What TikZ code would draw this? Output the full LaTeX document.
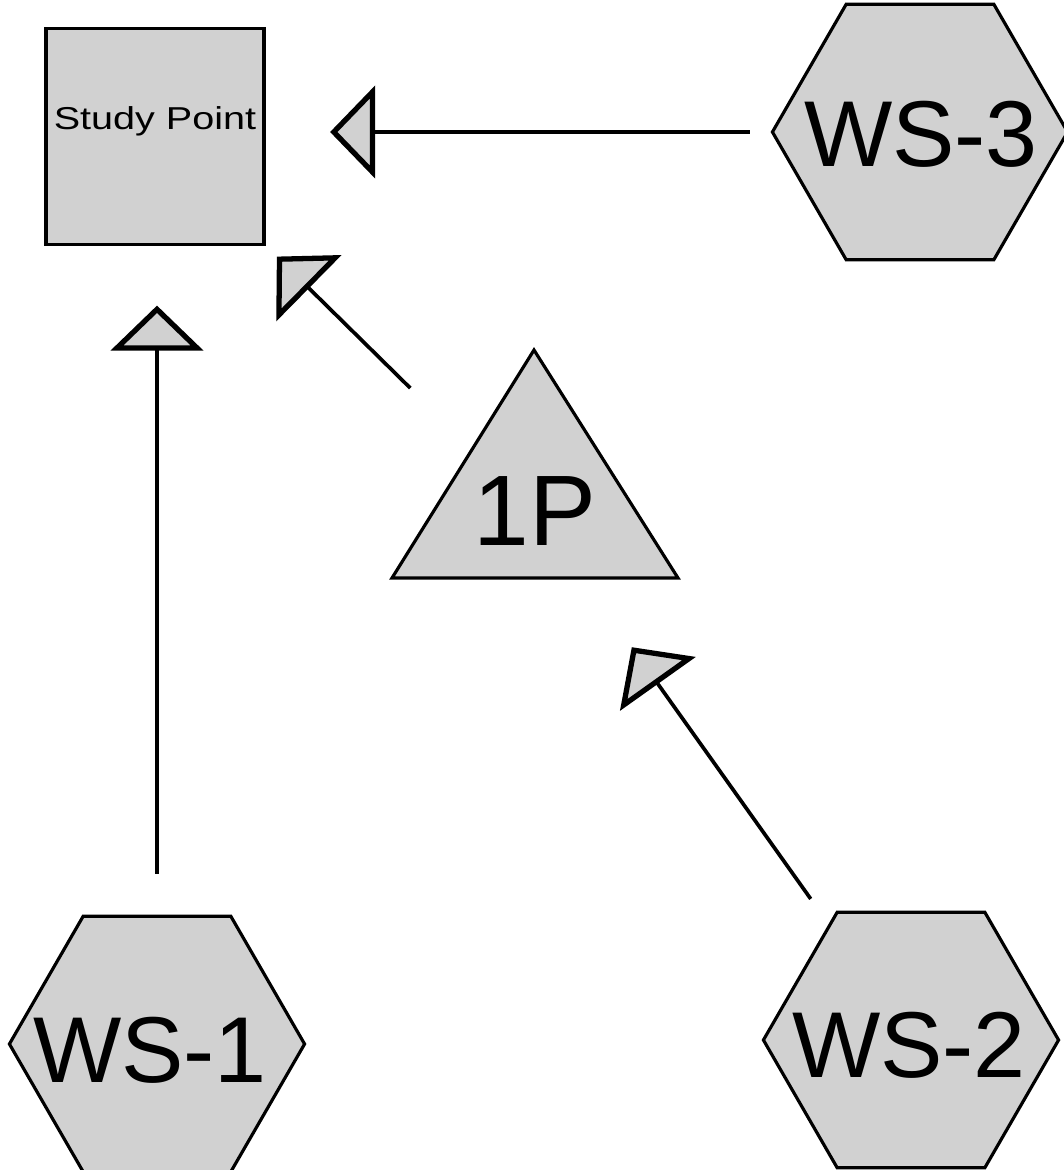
\documentclass[tikz,border=0pt]{standalone}
\usepackage{fontspec}
\setmainfont{Liberation Sans}
\usetikzlibrary{shapes.geometric, arrows.meta}
\tikzset{
  shapefill/.style={draw=black, fill=black!18, line width=0.9pt},
  spbox/.style={shapefill, rectangle, minimum width=2.18cm, minimum height=2.16cm,
    inner sep=0pt, text height=0.23cm, text depth=0.36cm},
  wshex/.style={shapefill, regular polygon, regular polygon sides=6,
    minimum size=2.95cm, inner sep=0pt, outer sep=0pt},
  wstext/.style={inner sep=0pt, font=\fontsize{26.6pt}{30pt}\selectfont},
  tritext/.style={inner sep=0pt, font=\fontsize{28.5pt}{32pt}\selectfont},
  link/.style={line width=1.05pt,
    -{Triangle[length=0.45cm, width=0.92cm, fill=black!18, line width=1.5pt]}},
}
\begin{document}
\begin{tikzpicture}[x=0.01cm, y=-0.01cm]
\useasboundingbox (0,0) rectangle (1064,1170);

% study point
\node[spbox] (sp) at (155,136.5) {\scalebox{1.25}[1]{\fontsize{9pt}{11pt}\selectfont Study Point}};

% the three stations
\node[wshex, label={[wstext, xshift=0.01cm, yshift=-0.02cm]center:WS-3}] (ws3) at (920,132) {};
\node[wshex, label={[wstext, xshift=-0.07cm, yshift=-0.06cm]center:WS-1}] (ws1) at (157,1044) {};
\node[wshex, label={[wstext, xshift=-0.02cm, yshift=-0.05cm]center:WS-2}] (ws2) at (911,1040) {};

% intermediate point 1P
\filldraw[shapefill] (534,350) -- (678,578) -- (392,578) -- cycle;
\node[tritext] (p1) at (535,511) {1P};

% connectors
\draw[link, shorten <=1.70cm, shorten >=1.69cm] (ws1.center) -- (ws1.center |- sp.center);
\draw[link, shorten <=1.75cm, shorten >=1.71cm] (p1.center) -- (sp.center);
\draw[link, shorten <=1.73cm, shorten >=1.67cm] (ws2.center) -- (p1.center);
\draw[link, shorten <=1.70cm, shorten >=1.75cm] (ws3.center) -- (ws3.center -| sp.center);
\end{tikzpicture}
\end{document}
